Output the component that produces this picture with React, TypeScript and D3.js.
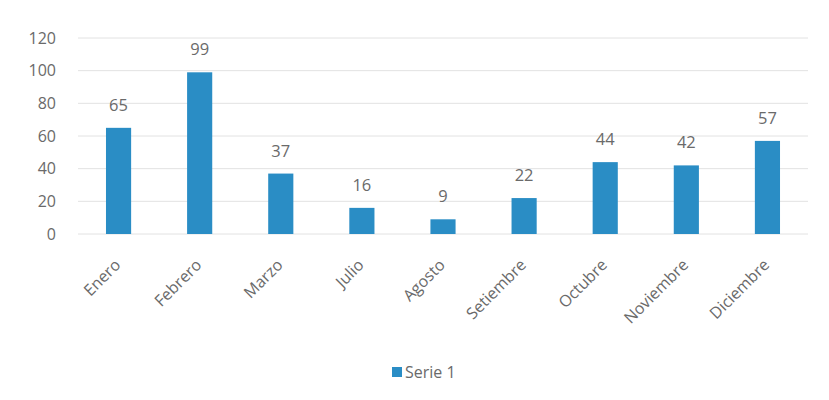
import React from "react";
import * as d3 from "d3";

const categories = ["Enero", "Febrero", "Marzo", "Julio", "Agosto", "Setiembre", "Octubre", "Noviembre", "Diciembre"];
const values = [65, 99, 37, 16, 9, 22, 44, 42, 57];
const yTicks = [0, 20, 40, 60, 80, 100, 120];
const seriesName = "Serie 1";

const W = 829;
const H = 400;
const left = 78;
const right = 808;
const top = 38;
const bottom = 234;
const barColor = "#2a8dc5";
const textColor = "#6a6a6a";
const font = "'Open Sans', 'Liberation Sans', sans-serif";

export default function App() {
  const x = d3.scaleBand<string>().domain(categories).range([left, right]).paddingInner(0.69).paddingOuter(0.345);
  const y = d3.scaleLinear().domain([0, 120]).range([bottom, top]);
  return (
    <svg width={W} height={H} style={{ position: "absolute", left: 0, top: 0, background: "#fff" }} fontFamily={font}>
      <rect x={0} y={0} width={W} height={H} fill="#fff" />
      {yTicks.map((t) => (
        <g key={t}>
          <line x1={left} x2={right} y1={y(t)} y2={y(t)} stroke="#e2e2e2" strokeWidth={1} />
          <text x={56} y={y(t)} dy="0.36em" textAnchor="end" fontSize={16} fill={textColor}>
            {t}
          </text>
        </g>
      ))}
      {categories.map((c, i) => {
        const bx = x(c)!;
        const cx = bx + x.bandwidth() / 2;
        return (
          <g key={c}>
            <rect x={bx} y={y(values[i])} width={x.bandwidth()} height={bottom - y(values[i])} fill={barColor} />
            <text x={cx} y={y(values[i]) - 17} textAnchor="middle" fontSize={16.5} fill={textColor}>
              {values[i]}
            </text>
            <text
              transform={`translate(${cx + 3},${266}) rotate(-45)`}
              textAnchor="end"
              fontSize={16}
              fill={textColor}
            >
              {c}
            </text>
          </g>
        );
      })}
      <rect x={392} y={367} width={10} height={10} fill={barColor} />
      <text x={405} y={378} fontSize={16} fill={textColor}>
        {seriesName}
      </text>
    </svg>
  );
}
